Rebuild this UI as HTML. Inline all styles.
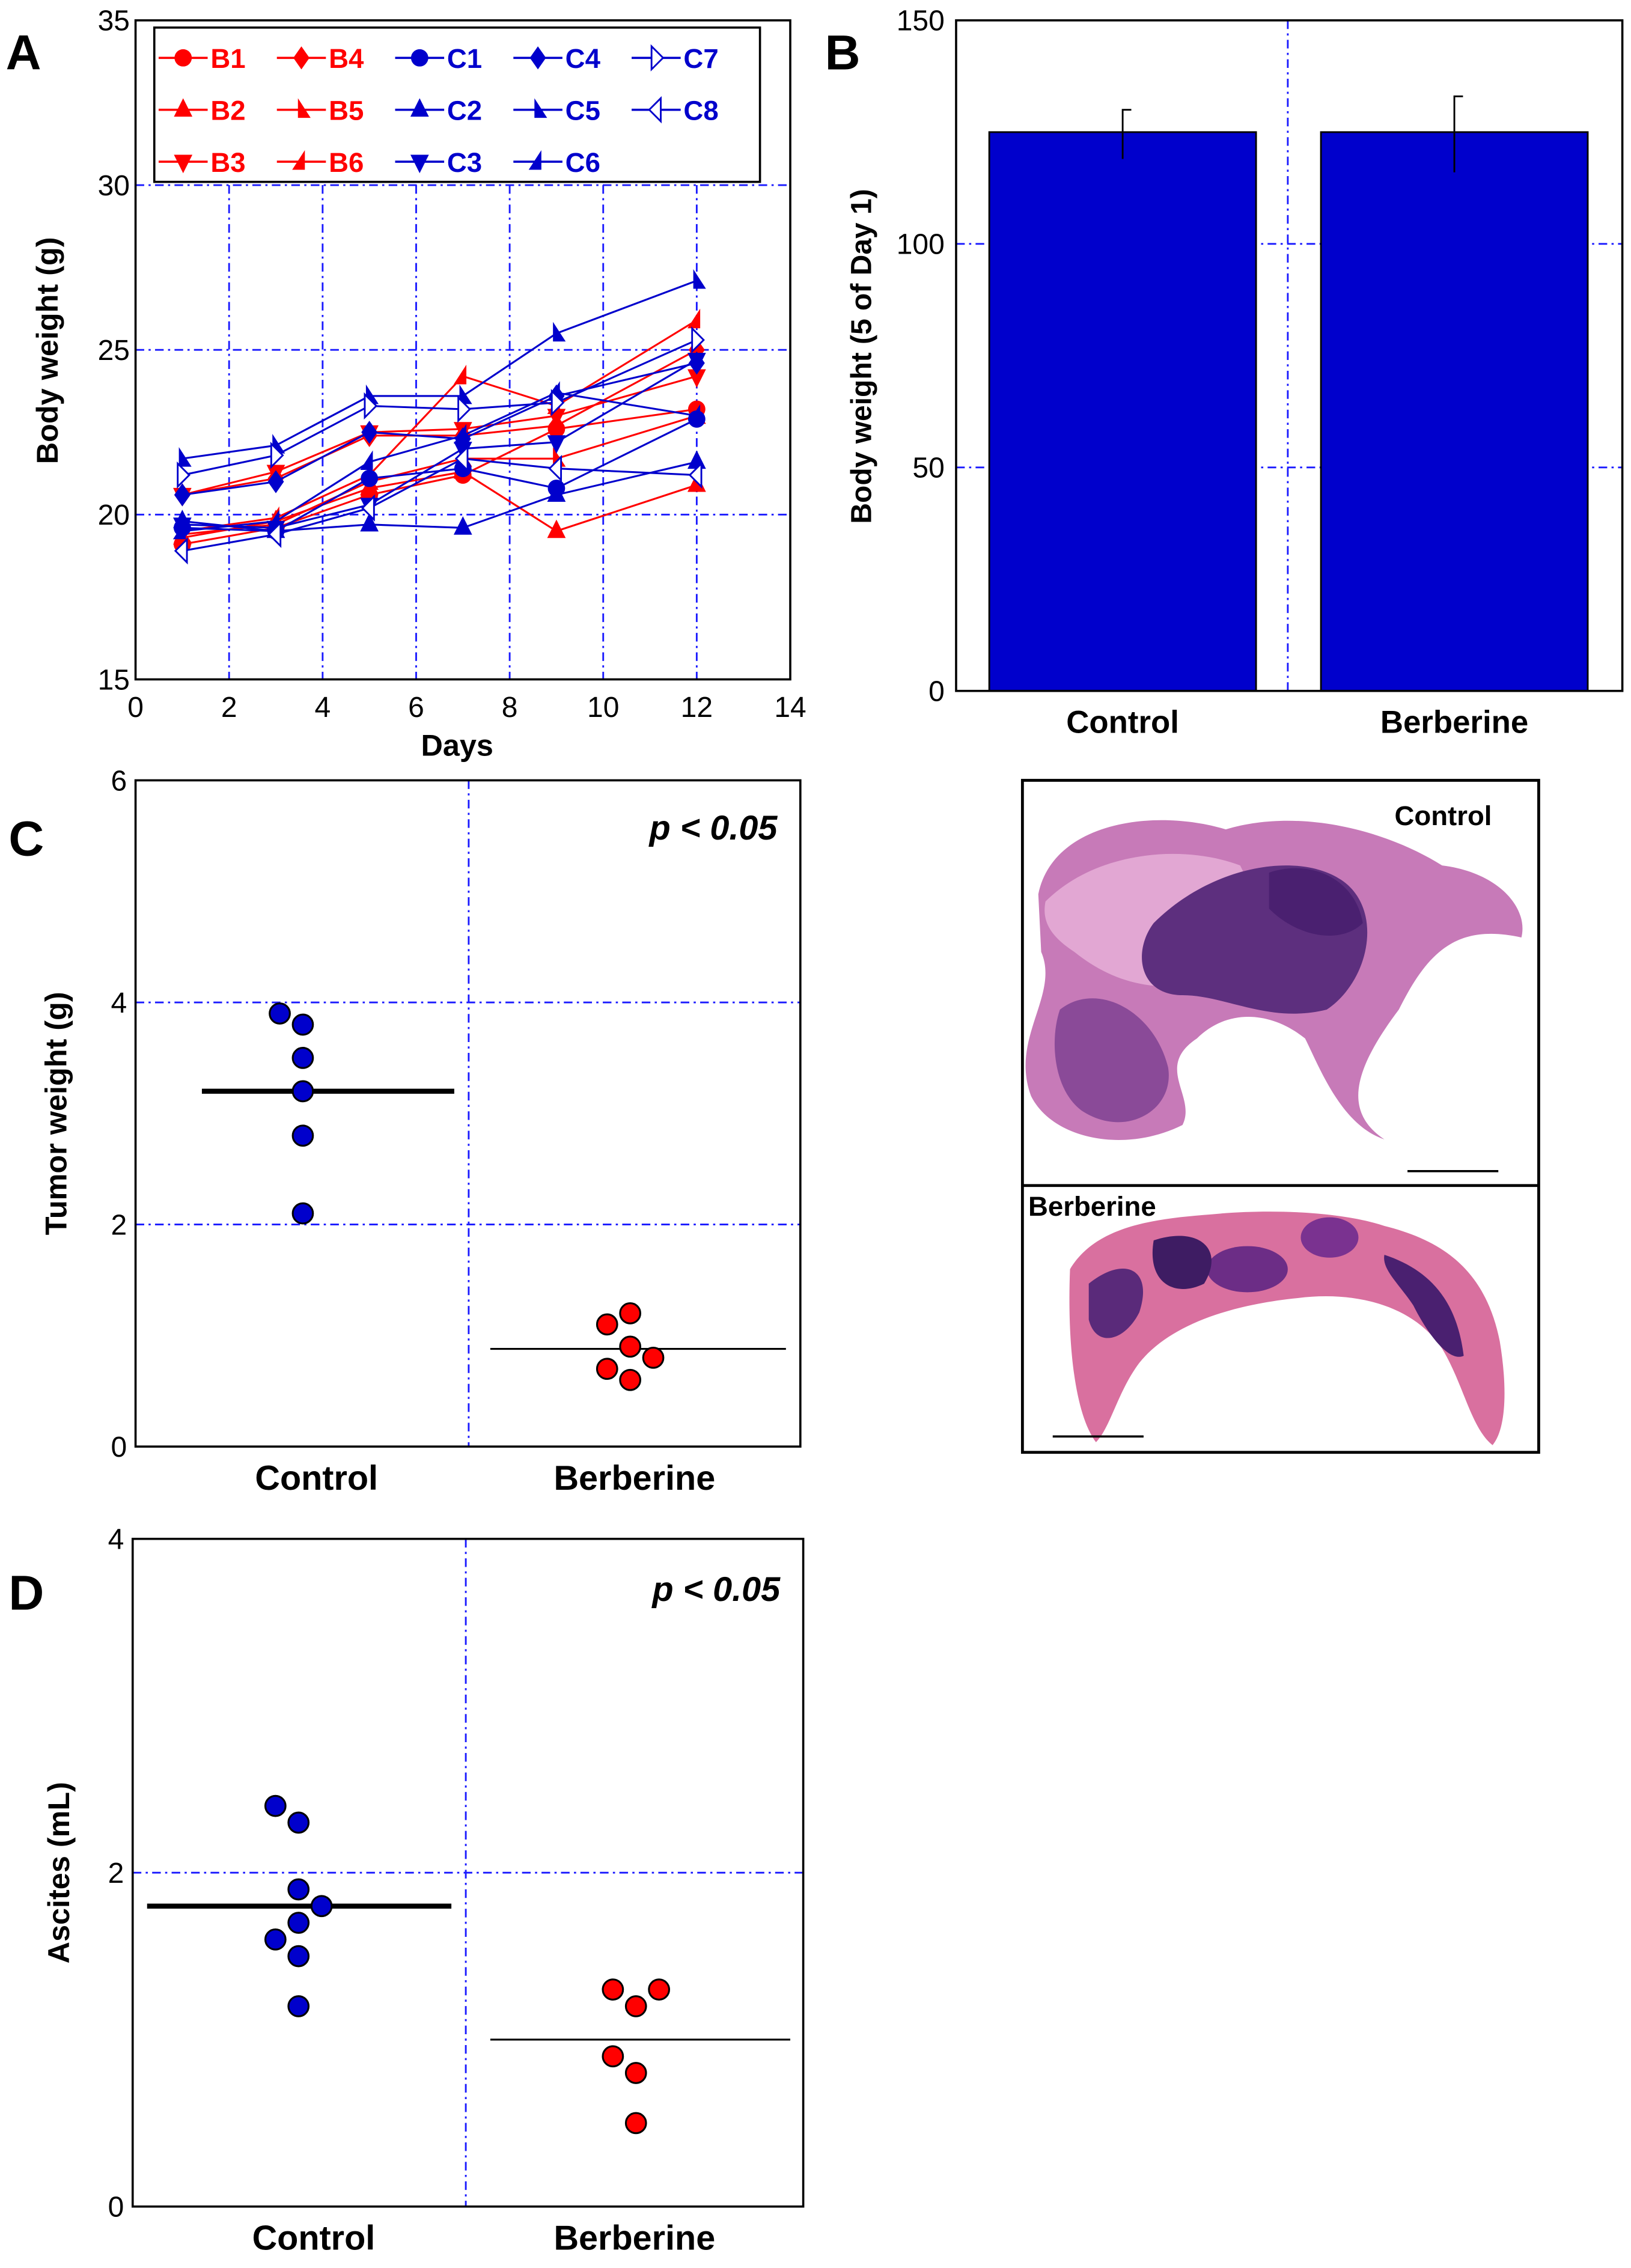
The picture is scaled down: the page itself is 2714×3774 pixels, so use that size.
<!DOCTYPE html>
<html><head><meta charset="utf-8"><style>
html,body{margin:0;padding:0;background:#fff}
svg{display:block;font-family:"Liberation Sans",Arial,sans-serif}
</style></head><body>
<svg id="fig" width="2714" height="3774" viewBox="0 0 1131 1572.5" xmlns="http://www.w3.org/2000/svg">
<g id="A"></g>
<g id="B"></g>
<g id="C"></g>
<g id="D"></g>
<g id="H">
  <rect x="709" y="541" width="358" height="466" fill="#fff" stroke="#000" stroke-width="2"/>
  <line x1="709" y1="822" x2="1067" y2="822" stroke="#000" stroke-width="2"/>
  <g>
    <path d="M720,620 C730,570 800,560 850,575 C900,560 960,575 1000,600 C1040,605 1060,630 1055,650 C1010,640 990,660 970,700 C940,740 930,770 960,790 C930,780 915,740 905,720 C880,700 850,700 830,720 C800,740 830,760 820,780 C780,800 730,790 715,760 C700,720 735,690 722,660 Z" fill="#c77ab8"/>
    <path d="M725,625 C760,590 820,585 860,600 C880,640 870,660 840,680 C800,690 770,680 745,660 C730,650 722,640 725,625 Z" fill="#e9b3da" opacity="0.8"/>
    <path d="M800,640 C840,600 900,590 930,610 C960,630 950,680 920,700 C880,710 850,690 820,690 C790,690 785,660 800,640 Z" fill="#5d2f7e"/>
    <path d="M735,700 C760,680 800,700 810,740 C815,770 780,790 750,770 C730,755 728,720 735,700 Z" fill="#8a4a98"/>
    <path d="M880,605 C910,595 940,610 945,640 C930,655 900,650 880,630 Z" fill="#4a2070"/>
    <line x1="976" y1="812" x2="1039" y2="812" stroke="#000" stroke-width="1.5"/>
  </g>
  <text x="967" y="572" font-size="19" font-weight="bold">Control</text>
  <g>
    <path d="M742,880 C760,850 800,845 840,842 C880,838 930,840 960,850 C1000,860 1030,880 1040,930 C1045,960 1045,990 1035,1002 C1020,990 1015,960 1000,935 C980,905 940,895 900,900 C850,905 810,920 790,945 C775,965 770,990 760,1000 C745,980 740,930 742,880 Z" fill="#d9709f"/>
    <path d="M755,890 C780,870 800,880 790,910 C780,930 760,935 755,915 Z" fill="#5a2a7a"/>
    <ellipse cx="865" cy="880" rx="28" ry="16" fill="#6c2d86"/>
    <ellipse cx="922" cy="858" rx="20" ry="14" fill="#7a3290"/>
    <path d="M960,870 C990,880 1010,900 1015,940 C1005,945 990,925 980,905 C970,890 958,880 960,870 Z" fill="#4a2070"/>
    <path d="M800,860 C830,850 850,865 835,890 C815,900 795,890 800,860 Z" fill="#3e1c63"/>
    <line x1="730" y1="996" x2="793" y2="996" stroke="#000" stroke-width="1.5"/>
  </g>
  <text x="713" y="843" font-size="19" font-weight="bold">Berberine</text>
</g>
</svg>
<script>
// ---------- Panel A data ----------
const daysA = [1,3,5,7,9,12];
const seriesNamesA = ["B1","B2","B3","B4","B5","B6","C1","C2","C3","C4","C5","C6","C7","C8"];
const B1 = [19.1,19.6,20.6,21.2,22.6,23.2];
const B2 = [19.3,19.8,20.8,21.3,19.5,20.9];
const B3 = [20.6,21.3,22.5,22.6,23.0,24.2];
const B4 = [20.6,21.1,22.4,22.4,22.7,25.0];
const B5 = [19.4,19.7,21.0,21.7,21.7,23.0];
const B6 = [19.5,19.9,21.2,24.2,23.3,25.9];
const C1 = [19.6,19.5,21.1,21.4,20.8,22.9];
const C2 = [19.8,19.5,19.7,19.6,20.6,21.6];
const C3 = [19.7,19.6,20.3,22.0,22.2,24.7];
const C4 = [20.6,21.0,22.5,22.3,23.6,24.6];
const C5 = [21.7,22.1,23.6,23.6,25.5,27.1];
const C6 = [19.5,19.8,21.6,22.4,23.7,23.0];
const C7 = [21.2,21.8,23.3,23.2,23.4,25.3];
const C8 = [18.9,19.4,20.2,21.7,21.4,21.2];
const valuesA = [B1,B2,B3,B4,B5,B6,C1,C2,C3,C4,C5,C6,C7,C8];
const markersA = ["circle","up","down","diamond","halfr","halfl","circle","up","down","diamond","halfr","halfl","openr","openl"];
const xTicksA = [0,2,4,6,8,10,12,14];
const yTicksA = [15,20,25,30,35];
// ---------- Panel B data ----------
const groupsB = ["Control","Berberine"];
const meansB = [125,125];
const errLowB = [119,116];
const errHighB = [130,133];
const yTicksB = [0,50,100,150];
// ---------- Panel C data ----------
const ctrlTumor = [3.9,3.8,3.5,3.2,2.8,2.1];
const ctrlTumorJit = [-1,0,0,0,0,0];
const berTumor = [1.2,1.1,0.9,0.8,0.7,0.6];
const berTumorJit = [0,-1,0,1,-1,0];
const meanTumor = [3.2,0.88];
const yTicksC = [0,2,4,6];
// ---------- Panel D data ----------
const ctrlAsc = [2.4,2.3,1.9,1.8,1.7,1.6,1.5,1.2];
const ctrlAscJit = [-1,0,0,1,0,-1,0,0];
const berAsc = [1.3,1.3,1.2,0.9,0.8,0.5];
const berAscJit = [-1,1,0,-1,0,0];
const meanAsc = [1.8,1.0];
const yTicksD = [0,2,4];

const NS="http://www.w3.org/2000/svg";
function mk(parent, tag, attrs, text){
  const e=document.createElementNS(NS,tag);
  for(const k in attrs) e.setAttribute(k,attrs[k]);
  if(text!==undefined) e.textContent=text;
  parent.appendChild(e); return e;
}
const BLUE="#0000cc", RED="#ff0000", GRID="#1a1aff";

function marker(g,type,x,y,s,col){
  let e;
  if(type==="circle") e=mk(g,"circle",{cx:x,cy:y,r:s*0.75,fill:col});
  else if(type==="up") e=mk(g,"polygon",{points:`${x},${y-s} ${x-s*0.8},${y+s*0.6} ${x+s*0.8},${y+s*0.6}`,fill:col});
  else if(type==="down") e=mk(g,"polygon",{points:`${x},${y+s} ${x-s*0.8},${y-s*0.6} ${x+s*0.8},${y-s*0.6}`,fill:col});
  else if(type==="diamond") e=mk(g,"polygon",{points:`${x},${y-s} ${x+s*0.7},${y} ${x},${y+s} ${x-s*0.7},${y}`,fill:col});
  else if(type==="halfr") e=mk(g,"polygon",{points:`${x-s*0.3},${y-s} ${x+s*0.8},${y+s*0.7} ${x-s*0.3},${y+s*0.7}`,fill:col});
  else if(type==="halfl") e=mk(g,"polygon",{points:`${x+s*0.3},${y-s} ${x-s*0.8},${y+s*0.7} ${x+s*0.3},${y+s*0.7}`,fill:col});
  else if(type==="openr") e=mk(g,"polygon",{points:`${x-s*0.4},${y-s} ${x+s*0.6},${y} ${x-s*0.4},${y+s}`,fill:"#fff",stroke:col,"stroke-width":1.2});
  else e=mk(g,"polygon",{points:`${x+s*0.4},${y-s} ${x-s*0.6},${y} ${x+s*0.4},${y+s}`,fill:"#fff",stroke:col,"stroke-width":1.2});
  return e;
}
function gridLine(g,x1,y1,x2,y2,name){
  const l=mk(g,"line",{x1,y1,x2,y2,stroke:GRID,"stroke-width":1.2,"stroke-dasharray":"6,3,1.5,3"});
  
  
}
function yTickLabels(g,ticks,sy,x,name){
  ticks.forEach(t=>{
    const tx=mk(g,"text",{x:x,y:sy(t)+7,"font-size":20,"text-anchor":"end"},String(t));
    
    
  });
}
function dot(g,x,y,col,name){
  const c=mk(g,"circle",{cx:x,cy:y,r:7,fill:col,stroke:"#000","stroke-width":1.3});
  
  
}

// ===== Panel A =====
(function(){
  const g=document.getElementById("A");
  const X0=94,X1=548,Y0=471,Y1=14;
  const sx=d=>X0+(d-0)/(14-0)*(X1-X0);
  const sy=v=>Y0-(v-15)/(35-15)*(Y0-Y1);
  xTicksA.slice(1,-1).forEach(t=>gridLine(g,sx(t),sy(30),sx(t),Y0,"x-gridline"));
  [20,25,30].forEach(t=>gridLine(g,X0,sy(t),X1,sy(t),"y-gridline"));
  const ax=mk(g,"rect",{x:X0,y:Y1,width:X1-X0,height:Y0-Y1,fill:"none",stroke:"#000","stroke-width":1.5});
   
  yTickLabels(g,yTicksA,sy,90,"y-tick-label");
  xTicksA.forEach(t=>{
    const tx=mk(g,"text",{x:sx(t),y:497,"font-size":20,"text-anchor":"middle"},String(t));
     
  });
  const xl=mk(g,"text",{x:317,y:524,"font-size":21,"font-weight":"bold","text-anchor":"middle"},"Days");
   
  const yl=mk(g,"text",{x:0,y:0,"font-size":21,"font-weight":"bold","text-anchor":"middle",transform:"translate(40,243) rotate(-90)"},"Body weight (g)");
   
  const lt=mk(g,"text",{x:4,y:48,"font-size":34,"font-weight":"bold"},"A");
   
  valuesA.forEach((vals,i)=>{
    const col=i<6?RED:BLUE;
    const sg=mk(g,"g",{});
    
    
    const pts=vals.map((v,j)=>`${sx(daysA[j])},${sy(v)}`).join(" ");
    mk(sg,"polyline",{points:pts,fill:"none",stroke:col,"stroke-width":1.3});
    vals.forEach((v,j)=>{
      const m=marker(sg,markersA[i],sx(daysA[j]),sy(v),8,col);
      
      
    });
  });
  // legend
  const lg=mk(g,"g",{});
   
  mk(lg,"rect",{x:107,y:19,width:420,height:107,fill:"#fff",stroke:"#000","stroke-width":1.5});
  seriesNamesA.forEach((n,i)=>{
    const col=i<6?RED:BLUE;
    let c,r;
    if(i<6){c=Math.floor(i/3);r=i%3;} else {c=2+Math.floor((i-6)/3);r=(i-6)%3;}
    const x=110+c*82, y=40+r*36;
    const e=mk(lg,"g",{});
    
    
    mk(e,"line",{x1:x,y1:y,x2:x+34,y2:y,stroke:col,"stroke-width":1.5});
    marker(e,markersA[i],x+17,y,8,col);
    mk(e,"text",{x:x+36,y:y+7,"font-size":19,"font-weight":"bold",fill:col},n);
  });
})();

// ===== Panel B =====
(function(){
  const g=document.getElementById("B");
  const X0=663,X1=1125,Y0=479,Y1=14;
  const sy=v=>Y0-v/150*(Y0-Y1);
  const bx=[686,916], bw=185;
  gridLine(g,893,Y1,893,Y0,"x-gridline");
  [50,100].forEach(t=>gridLine(g,X0,sy(t),X1,sy(t),"y-gridline"));
  groupsB.forEach((n,i)=>{
    const r=mk(g,"rect",{x:bx[i],y:sy(meansB[i]),width:bw,height:sy(0)-sy(meansB[i]),fill:"#0000cc",stroke:"#000","stroke-width":1.2});
     
    const cx=bx[i]+bw/2;
    const e=mk(g,"path",{d:`M${cx},${sy(errLowB[i])}V${sy(errHighB[i])}H${cx+6}`,stroke:"#000","stroke-width":1.2,fill:"none"});
     
    const t=mk(g,"text",{x:cx,y:508,"font-size":22,"font-weight":"bold","text-anchor":"middle"},n);
     
  });
  const ax=mk(g,"rect",{x:X0,y:Y1,width:X1-X0,height:Y0-Y1,fill:"none",stroke:"#000","stroke-width":1.5});
   
  yTickLabels(g,yTicksB,sy,655,"y-tick-label");
  const yl=mk(g,"text",{x:0,y:0,"font-size":20,"font-weight":"bold","text-anchor":"middle",transform:"translate(604,247) rotate(-90)"},"Body weight (5 of Day 1)");
   
  const lt=mk(g,"text",{x:572,y:48,"font-size":34,"font-weight":"bold"},"B");
   
})();

// ===== Dot plot panels =====
function dotPanel(id,X0,X1,Y0,Y1,ymax,ticks,divX,ctrl,ctrlJ,ctrlX,ber,berJ,berX,means,meanSeg,ytitle,ytX,letterY,pY,labY){
  const g=document.getElementById(id);
  const sy=v=>Y0-v/ymax*(Y0-Y1);
  gridLine(g,divX,Y1,divX,Y0,"x-gridline");
  ticks.slice(1,-1).forEach(t=>gridLine(g,X0,sy(t),X1,sy(t),"y-gridline"));
  const ax=mk(g,"rect",{x:X0,y:Y1,width:X1-X0,height:Y0-Y1,fill:"none",stroke:"#000","stroke-width":1.5});
   
  yTickLabels(g,ticks,sy,X0-6,"y-tick-label");
  const m1=mk(g,"line",{x1:meanSeg[0],x2:meanSeg[1],y1:sy(means[0]),y2:sy(means[0]),stroke:"#000","stroke-width":3.5});
   
  const m2=mk(g,"line",{x1:meanSeg[2],x2:meanSeg[3],y1:sy(means[1]),y2:sy(means[1]),stroke:"#000","stroke-width":1.3});
   
  ctrl.forEach((v,i)=>dot(g,ctrlX+ctrlJ[i]*16,sy(v),"#0000cc","control-point"));
  ber.forEach((v,i)=>dot(g,berX+berJ[i]*16,sy(v),"#ff0000","berberine-point"));
  const p=mk(g,"text",{x:X1-16,y:pY,"font-size":24,"font-weight":"bold","font-style":"italic","text-anchor":"end"},"p < 0.05");
   
  [["Control",(X0+divX)/2+10],["Berberine",(divX+X1)/2]].forEach(([n,x])=>{
    const t=mk(g,"text",{x:x,y:labY,"font-size":24,"font-weight":"bold","text-anchor":"middle"},n);
     
  });
  const yl=mk(g,"text",{x:0,y:0,"font-size":21,"font-weight":"bold","text-anchor":"middle",transform:`translate(${ytX},${(Y0+Y1)/2}) rotate(-90)`},ytitle);
   
  const lt=mk(g,"text",{x:6,y:letterY,"font-size":34,"font-weight":"bold"},id);
   
}
dotPanel("C",94,555,1003,541,6,yTicksC,325,ctrlTumor,ctrlTumorJit,210,berTumor,berTumorJit,437,meanTumor,[140,315,340,545],"Tumor weight (g)",46,593,582,1033);
dotPanel("D",92,557,1530,1067,4,yTicksD,323,ctrlAsc,ctrlAscJit,207,berAsc,berAscJit,441,meanAsc,[102,313,340,548],"Ascites (mL)",48,1116,1110,1560);
</script>
</body></html>
